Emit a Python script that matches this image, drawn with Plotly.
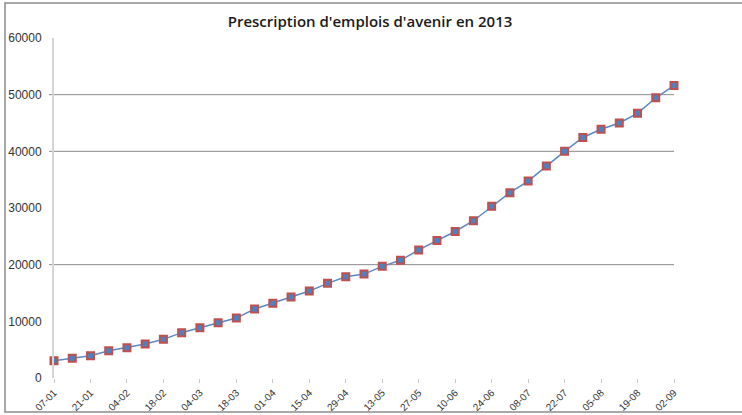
import plotly.graph_objects as go

# ---- data ----
dates = ["07-01", "14-01", "21-01", "28-01", "04-02", "11-02", "18-02", "25-02",
         "04-03", "11-03", "18-03", "25-03", "01-04", "08-04", "15-04", "22-04",
         "29-04", "06-05", "13-05", "20-05", "27-05", "03-06", "10-06", "17-06",
         "24-06", "01-07", "08-07", "15-07", "22-07", "29-07", "05-08", "12-08",
         "19-08", "26-08", "02-09"]
prescriptions = [3050, 3470, 3940, 4820, 5350, 6000, 6820, 8000,
                 8880, 9760, 10580, 12170, 13170, 14290, 15340, 16700,
                 17870, 18340, 19700, 20770, 22600, 24250, 25850, 27750,
                 30300, 32700, 34750, 37400, 40000, 42450, 43900, 45000,
                 46700, 49450, 51600]
x_tick_labels = dates[::2]
y_tick_values = [0, 10000, 20000, 30000, 40000, 50000, 60000]
grid_values = [20000, 40000, 50000]
title_text = "Prescription d'emplois d'avenir en 2013"

fig = go.Figure()
fig.add_trace(go.Scatter(
    x=dates, y=prescriptions, mode="lines+markers",
    line=dict(color="#5B87C5", width=1.5),
    marker=dict(symbol="square", size=7, color="#4F81BD",
                line=dict(color="#C0504D", width=2)),
    cliponaxis=False, showlegend=False,
))

shapes = []
for g in grid_values:
    shapes.append(dict(type="line", xref="paper", yref="y",
                       x0=-5/620, x1=1.0, y0=g, y1=g,
                       line=dict(color="#8a8a8a", width=1), layer="below"))
# chart-area border
shapes.append(dict(type="rect", xref="paper", yref="paper",
                   x0=-49/620, x1=1.2, y0=-34/340, y1=375/340,
                   line=dict(color="#8c8c8c", width=1.5)))

fig.update_layout(
    width=742, height=415,
    margin=dict(l=54, r=68, t=38, b=37, autoexpand=False),
    paper_bgcolor="white", plot_bgcolor="white",
    title=dict(text=title_text, x=370/742, xanchor="center", y=1 - 22/415, yanchor="middle",
               font=dict(family="Open Sans", size=15, weight=600, color="#1a1a1a")),
    shapes=shapes,
    xaxis=dict(
        type="category", range=[0, len(dates) - 1], automargin=False,
        tickmode="array", tickvals=x_tick_labels, ticktext=x_tick_labels,
        tickangle=-45, ticks="outside", ticklen=4, tickcolor="#c8c8c8",
        ticklabelstandoff=0,
        showgrid=False, showline=False, zeroline=False,
        tickfont=dict(family="Liberation Sans", size=10, color="#333333"),
    ),
    yaxis=dict(
        range=[0, 60000], tickmode="array", tickvals=y_tick_values, automargin=False,
        ticktext=[str(v) for v in y_tick_values],
        showgrid=False, zeroline=False,
        showline=True, linecolor="#d4d4d4", linewidth=2,
        ticks="", ticklabelstandoff=8,
        tickfont=dict(family="Liberation Sans", size=12, color="#333333"),
    ),
)

fig.write_html("out.html", config={"displayModeBar": False},
               post_script="document.body.style.margin='0';")
